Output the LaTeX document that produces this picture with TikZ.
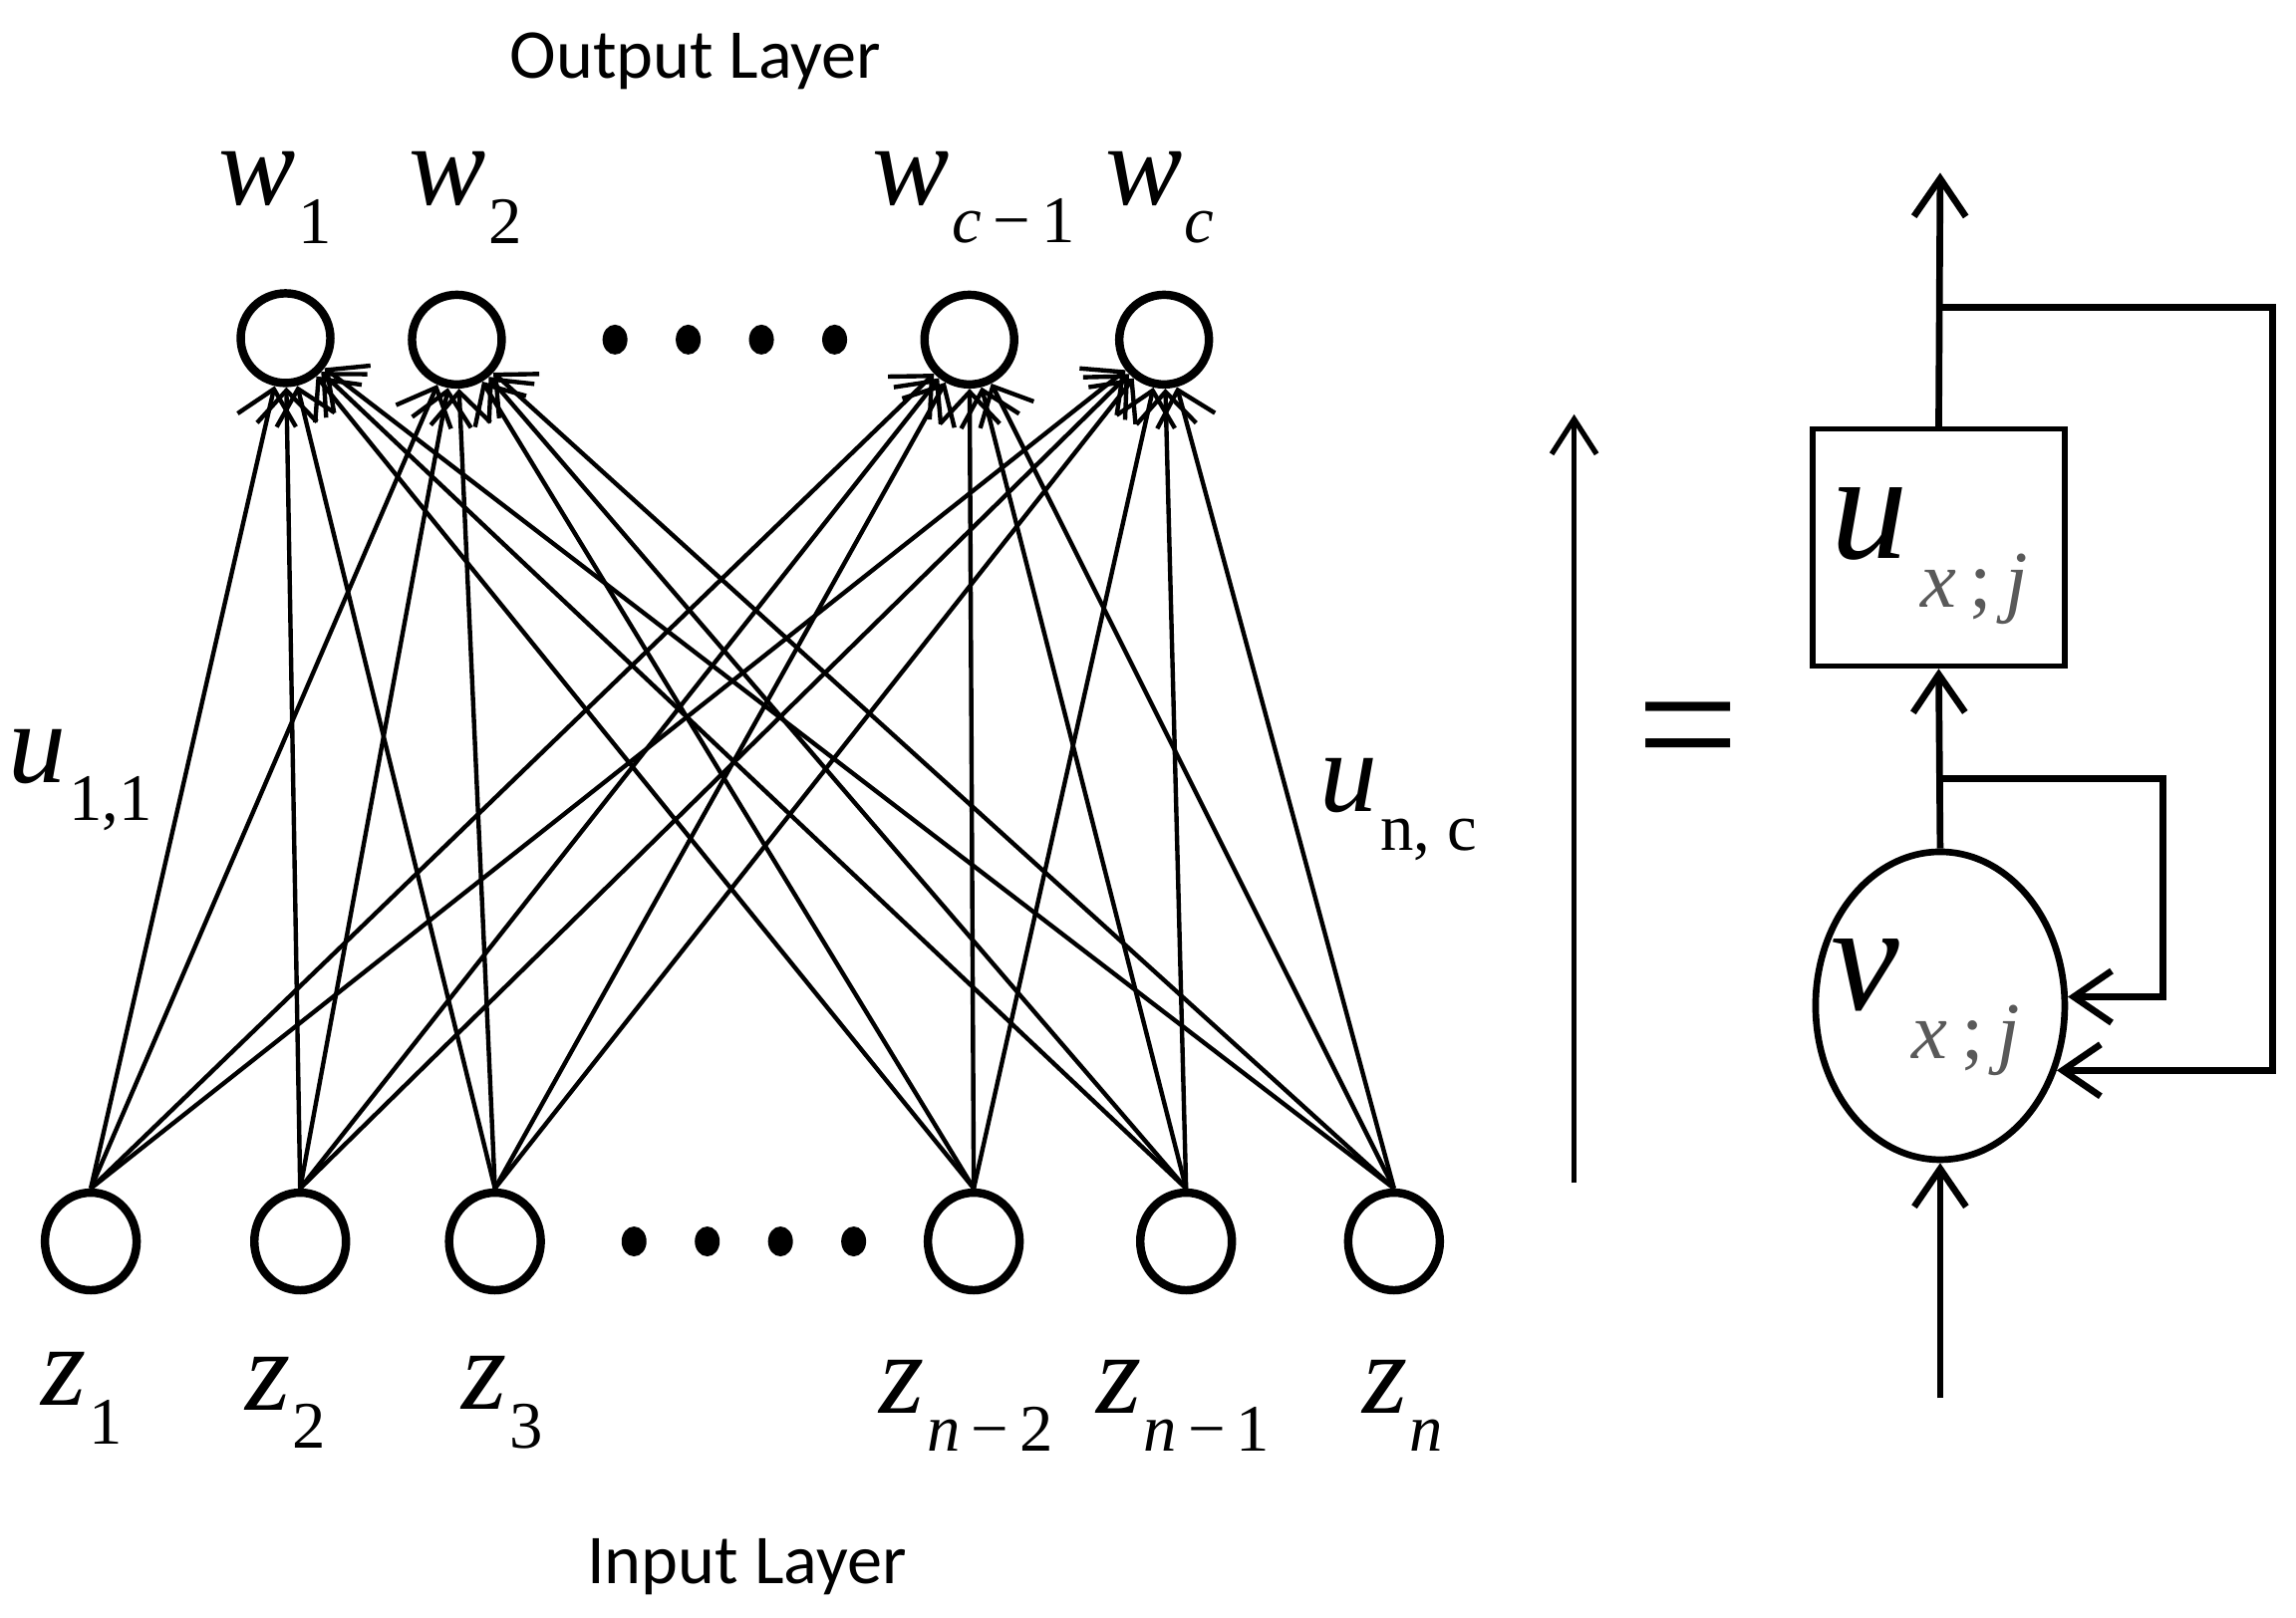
\documentclass[tikz,border=0pt]{standalone}
\usepackage{fontspec}
\setmainfont{Liberation Serif}[ItalicFont={Liberation Serif Italic}]
\newfontfamily\sansf{Carlito}
\usetikzlibrary{arrows.meta,shapes.geometric}
\newcommand\lb[2]{\textit{#1}\kern0.02em\raisebox{-0.33em}{\fontsize{19}{19}\selectfont #2}}
\newcommand\biglb[2]{\textit{#1}\kern0.08em\raisebox{-0.32em}{\fontsize{23}{23}\selectfont\color{black!65}#2}}
\begin{document}
\begin{tikzpicture}[x=0.014694cm, y=-0.014694cm,
  onode/.style={circle,draw,line width=2.4pt,minimum size=0.9cm,inner sep=0pt},
  inode/.style={ellipse,draw,line width=2.4pt,minimum width=0.92cm,minimum height=0.98cm,inner sep=0pt},
  dotn/.style={ellipse,fill,minimum width=0.25cm,minimum height=0.3cm,inner sep=0pt},
  conn/.style={line width=1.25pt,-{Straight Barb[length=0.32cm,width=0.6cm]}},
  lab/.style={inner sep=0pt,font=\fontsize{33}{33}\selectfont},
  biglab/.style={inner sep=0pt,font=\fontsize{44}{44}\selectfont},
  ttl/.style={inner sep=0pt,font=\sansf\fontsize{20}{20}\selectfont},
  rarr/.style={line width=1.9pt,-{Straight Barb[length=0.38cm,width=0.52cm]}},
]
\useasboundingbox (0,0) rectangle (1568,1105);

% output layer
\node[onode] (w1) at (195,231) {};
\node[onode] (w2) at (312,232) {};
\node[onode] (w3) at (662,232) {};
\node[onode] (w4) at (795,232) {};
\node[dotn] (td1) at (420,232) {};
\node[dotn] (td2) at (470,232) {};
\node[dotn] (td3) at (520,232) {};
\node[dotn] (td4) at (570,232) {};

% input layer
\node[inode] (z1) at (62,848) {};
\node[inode] (z2) at (205,848) {};
\node[inode] (z3) at (338,848) {};
\node[inode] (z4) at (665,848) {};
\node[inode] (z5) at (810,848) {};
\node[inode] (z6) at (952,848) {};
\node[dotn] (bd1) at (433,848) {};
\node[dotn] (bd2) at (483,848) {};
\node[dotn] (bd3) at (533,848) {};
\node[dotn] (bd4) at (583,848) {};

\foreach \i in {1,...,6}{
  \foreach \j in {1,...,4}{
    \draw[conn] (z\i.north) -- (w\j);
  }
}

% labels
\node[ttl] (outl) at (475,42) {Output Layer};
\node[ttl] (inl) at (510,1070) {Input Layer};
\node[lab] (lw1) at (188,135) {\lb{w}{1}};
\node[lab] (lw2) at (318,135) {\lb{w}{2}};
\node[lab] (lw3) at (665,135) {\lb{w}{\textit{c}\,−\,1}};
\node[lab] (lw4) at (792,135) {\lb{w}{\textit{c}}};
\node[lab] (lz1) at (56,955) {\lb{z}{1}};
\node[lab] (lz2) at (195,958) {\lb{z}{2}};
\node[lab] (lz3) at (343,958) {\lb{z}{3}};
\node[lab] (lz4) at (660,960) {\lb{z}{\textit{n}\,−\,2}};
\node[lab] (lz5) at (808,960) {\lb{z}{\textit{n}\,−\,1}};
\node[lab] (lz6) at (958,960) {\lb{z}{\textit{n}}};
\node[lab] (u11) at (55,533) {\lb{u}{1,1}};
\node[lab] (unc) at (955,553) {\lb{u}{n, c}};

% right part
\node[draw,line width=1.5pt,minimum width=2.53cm,minimum height=2.38cm,inner sep=0pt] (ubox) at (1324,374) {};
\node[biglab] (utxt) at (1318,380) {\biglb{u}{\textit{x}\,;\,\textit{j}}};
\node[ellipse,draw,line width=1.9pt,minimum width=2.5cm,minimum height=3.09cm,inner sep=0pt] (vell) at (1325,687) {};
\node[biglab] (vtxt) at (1315,688) {\biglb{v}{\textit{x}\,;\,\textit{j}}};

\coordinate (otop) at (1325,118);
\coordinate (b1) at (1325,210);
\coordinate (c1) at (1552,210);
\coordinate (c2) at (c1 |- vell.-29);
\coordinate (b2) at (1325,532);
\coordinate (c3) at (1477,532);
\coordinate (c4) at (c3 |- vell.4);
\coordinate (inb) at (1325,955);
\coordinate (la) at (1075,808);
\coordinate (lt) at (1075,283);

\draw[rarr] (ubox.north) -- (otop);
\draw[rarr] (b1) -- (c1) -- (c2) -- (vell.-29);
\draw[rarr] (b2) -- (c3) -- (c4) -- (vell.4);
\draw[rarr] (vell.north) -- (ubox.south);
\draw[rarr] (inb) -- (vell.south);
\draw[line width=1.5pt,-{Straight Barb[length=0.35cm,width=0.45cm]}] (la) -- (lt);
\node[inner sep=0pt,font=\fontsize{52}{52}\selectfont] (eq) at (1153,508) {=};
\end{tikzpicture}
\end{document}
